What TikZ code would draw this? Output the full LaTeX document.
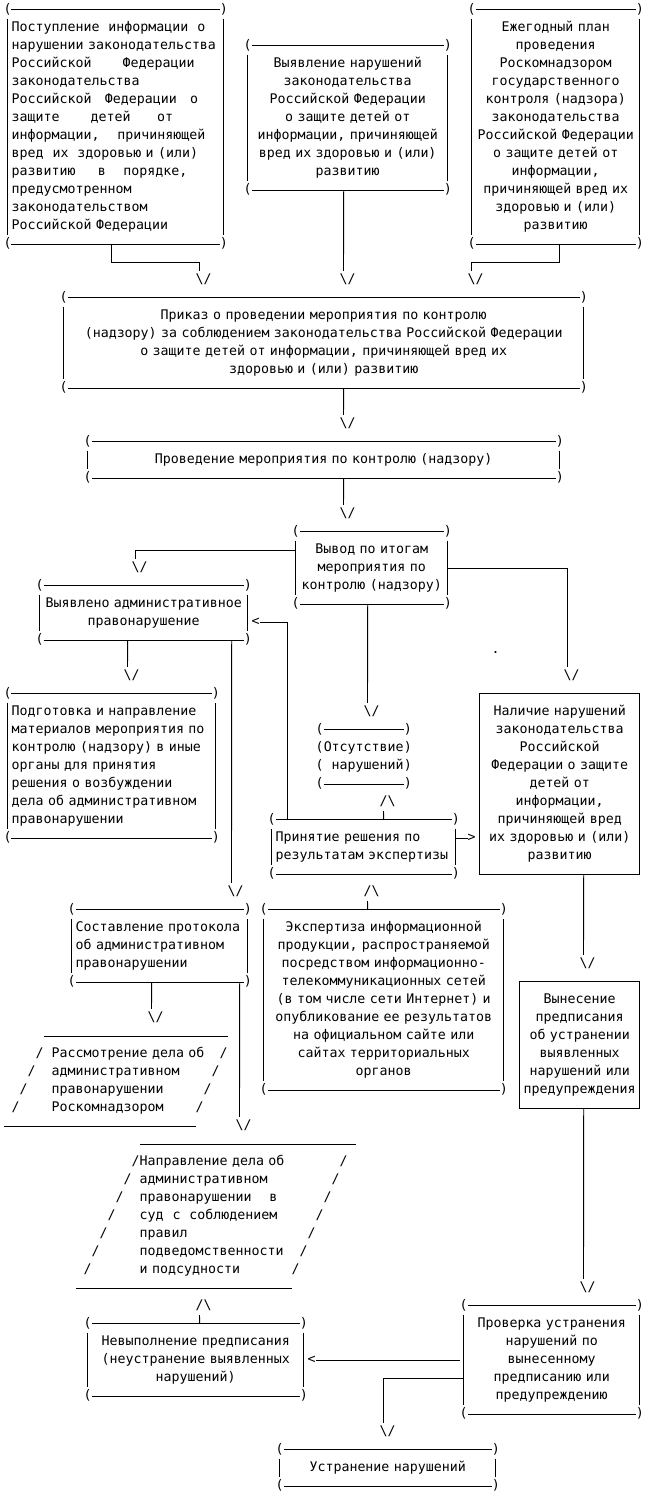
\documentclass[tikz,border=0pt]{standalone}
\usepackage{fontspec}
\setmonofont{DejaVu Sans Mono}
\tikzset{
  every node/.style={font=\ttfamily\fontsize{13.28}{18}\selectfont\frenchspacing},
  ln/.style={line width=.9pt},
  glyph/.style={inner sep=0pt, text height=12.6pt, text depth=5.4pt},
  pbox/.style={inner xsep=4pt, inner ysep=9pt, align=center,
    execute at begin node=\strut, execute at end node=\strut},
}
\newcommand{\frm}[1]{%
  \draw[ln] ([xshift=4pt]#1.north west) -- ([xshift=-4pt]#1.north east)
            ([xshift=4pt]#1.south west) -- ([xshift=-4pt]#1.south east);
  \draw[ln] ([yshift=-9pt]#1.north west) -- ([yshift=9pt]#1.south west)
            ([yshift=-9pt]#1.north east) -- ([yshift=9pt]#1.south east);
  \node[glyph] (#1tl) at (#1.north west) {(};
  \node[glyph] (#1tr) at (#1.north east) {)};
  \node[glyph] (#1bl) at (#1.south west) {(};
  \node[glyph] (#1br) at (#1.south east) {)};
}
\newcommand{\rfrm}[1]{\draw[ln] (#1.north west) rectangle (#1.south east);}
\begin{document}
\begin{tikzpicture}[x=8pt,y=-18pt]
\path[use as bounding box, fill=white] (-0.9625,-0.5556) rectangle (80.5375,82.6667);

\node[pbox, align=left, text width=208pt] (b1) at (13.5,6.5) {Поступление~~информации~~о\\нарушении законодательства\\Российской~~~~~~~Федерации\\законодательства\\Российской~~~Федерации~~~о\\защите~~~~~~~детей~~~~~~от\\информации,~~~~причиняющей\\вред~~их~~здоровью и (или)\\развитию~~~~~в~~~~порядке,\\предусмотренном\\законодательством\\Российской Федерации};
\node[pbox, text width=192pt] (b2) at (42.5,6) {Выявление нарушений\\законодательства\\Российской Федерации\\о защите детей от\\информации, причиняющей\\вред их здоровью и (или)\\развитию};
\node[pbox, text width=160pt] (b3) at (68.5,6.5) {Ежегодный план\\проведения\\Роскомнадзором\\государственного\\контроля (надзора)\\законодательства\\Российской Федерации\\о защите детей от\\информации,\\причиняющей вред их\\здоровью и (или)\\развитию};
\node[pbox, text width=512pt] (b4) at (39.5,18.5) {Приказ о проведении мероприятия по контролю\\(надзору) за соблюдением законодательства Российской Федерации\\о защите детей от информации, причиняющей вред их\\здоровью и (или) развитию};
\node[pbox, text width=464pt] (b5) at (39.5,25) {Проведение мероприятия по контролю (надзору)};
\node[pbox, text width=144pt] (b6) at (45.5,31) {Вывод по итогам\\мероприятия по\\контролю (надзору)};
\node[pbox, text width=200pt] (b7) at (17,33.5) {Выявлено административное\\правонарушение};
\node[pbox, align=left, text width=200pt] (b8) at (13,42) {Подготовка и направление\\материалов мероприятия по\\контролю (надзору) в иные\\органы для принятия\\решения о возбуждении\\дела об административном\\правонарушении};
\node[pbox, align=right, text width=80pt] (b9) at (44.5,41.5) {Отсутствие\\нарушений};
\node[pbox, align=left, text width=176pt] (b10) at (44.5,46.5) {Принятие решения по\\результатам экспертизы};
\node[pbox, text width=152pt] (r1) at (69,43) {Наличие нарушений\\законодательства\\Российской\\Федерации о защите\\детей от\\информации,\\причиняющей вред\\их здоровью и (или)\\развитию};
\node[pbox, text width=232pt] (b11) at (47,55) {Экспертиза информационной\\продукции, распространяемой\\посредством информационно-\\телекоммуникационных сетей\\(в том числе сети Интернет) и\\опубликование ее результатов\\на официальном сайте или\\сайтах территориальных\\органов};
\node[pbox, align=left, text width=168pt] (b12) at (19,52) {Составление протокола\\об административном\\правонарушении};
\node[pbox, text width=112pt] (r2) at (71.5,57.5) {Вынесение\\предписания\\об устранении\\выявленных\\нарушений или\\предупреждения};
\node[pbox, align=left, text width=160pt] (p1) at (15.5,59.5) {Рассмотрение дела об\\административном\\правонарушении\\Роскомнадзором};
\node[pbox, align=left, text width=152pt] (p2) at (26,67) {Направление дела об\\административном\\правонарушении~~~~в\\суд~~с~~соблюдением\\правил\\подведомственности\\и подсудности};
\node[pbox, text width=208pt] (b13) at (23.5,75) {Невыполнение предписания\\(неустранение выявленных\\нарушений)};
\node[pbox, text width=168pt] (b14) at (68,75) {Проверка устранения\\нарушений по\\вынесенному\\предписанию или\\предупреждению};
\node[pbox, text width=208pt] (b15) at (47.5,81) {Устранение нарушений};

\foreach \b in {b1,b2,b3,b4,b5,b6,b7,b8,b10,b11,b12,b13,b14,b15} {\frm{\b}}
\rfrm{r1}
\rfrm{r2}
\draw[ln] ([xshift=4pt]b9.north west) -- ([xshift=-4pt]b9.north east)
          ([xshift=4pt]b9.south west) -- ([xshift=-4pt]b9.south east);
\foreach \r in {40,...,43} {\node[glyph] (l\r) at (b9.west |- 0,\r) {(}; \node[glyph] (r\r) at (b9.east |- 0,\r) {)};}

\draw[ln] (4.5,57) -- (27.5,57) (-0.5,62) -- (23.5,62);
\foreach \k in {0,...,3} {\node[glyph] (sa\k) at (4-\k,58+\k) {/}; \node[glyph] (sb\k) at (27-\k,58+\k) {/};}
\draw[ln] (16.5,63) -- (43.5,63) (8.5,71) -- (35.5,71);
\foreach \k in {0,...,6} {\node[glyph] (sc\k) at (16-\k,64+\k) {/}; \node[glyph] (sd\k) at (42-\k,64+\k) {/};}

\foreach \n/\x/\y in {v1/24.5/15, v2/42.5/15, v3/58.5/15, v4/42.5/23, v5/42.5/28, v6/16.5/31, v7/70.5/37, v8/45.5/39, v9/15.5/37, v10/28.5/49, v11/72.5/53, v12/72.5/71, v13/18.5/56, v14/29.5/62, v15/47.5/79}
  {\node[glyph] (\n) at (\x,\y) {\textbackslash/};}
\foreach \n/\x/\y in {u1/47.5/44, u2/45.5/49, u3/24.5/72}
  {\node[glyph] (\n) at (\x,\y) {/\textbackslash};}
\node[glyph] (lt1) at (31,34) {<};
\node[glyph] (lt2) at (38,75) {<};
\node[glyph] (gt1) at (58,46) {>};
\node[glyph, anchor=base] (dot) at (61,35.75) {.};

\draw[ln] (b1.south -| 13,0) -- ++(0,1) -| ([xshift=4pt]v1.north west);
\draw[ln] (b2.south -| 42,0) -- ([xshift=4pt]v2.north west);
\draw[ln] (b3.south -| 69,0) -- ++(0,1) -| ([xshift=4pt]v3.north west);
\draw[ln] (b4.south -| 42,0) -- ([xshift=4pt]v4.north west);
\draw[ln] (b5.south -| 42,0) -- ([xshift=4pt]v5.north west);
\draw[ln] (b6.west |- 0,30) -| ([xshift=4pt]v6.north west);
\draw[ln] (b6.east |- 0,31) -| ([xshift=4pt]v7.north west);
\draw[ln] (b6.south -| 45,0) -- ([xshift=4pt]v8.north west);
\draw[ln] (b7.south -| 15,0) -- ([xshift=4pt]v9.north west);
\draw[ln] (b7.south -| 28,0) -- ([xshift=4pt]v10.north west);
\draw[ln] (b10.north -| 35,0) |- (lt1.east);
\draw[ln] (b10.north -| 47,0) -- ([xshift=4pt]u1.south west);
\draw[ln] (b10.east |- gt1.west) -- (gt1.west);
\draw[ln] (b11.north -| 45,0) -- ([xshift=4pt]u2.south west);
\draw[ln] (r1.south -| 72,0) -- ([xshift=4pt]v11.north west);
\draw[ln] (r2.south -| 72,0) -- ([xshift=4pt]v12.north west);
\draw[ln] (b12.south -| 18,0) -- ([xshift=4pt]v13.north west);
\draw[ln] (b12.south -| 29,0) -- ([xshift=4pt]v14.north west);
\draw[ln] (b13.north -| 24,0) -- ([xshift=4pt]u3.south west);
\draw[ln] ([xshift=-4pt]b14.west |- lt2.east) -- (lt2.east);
\draw[ln] (b14.west |- 0,76) -| ([xshift=4pt]v15.north west);
\end{tikzpicture}
\end{document}
